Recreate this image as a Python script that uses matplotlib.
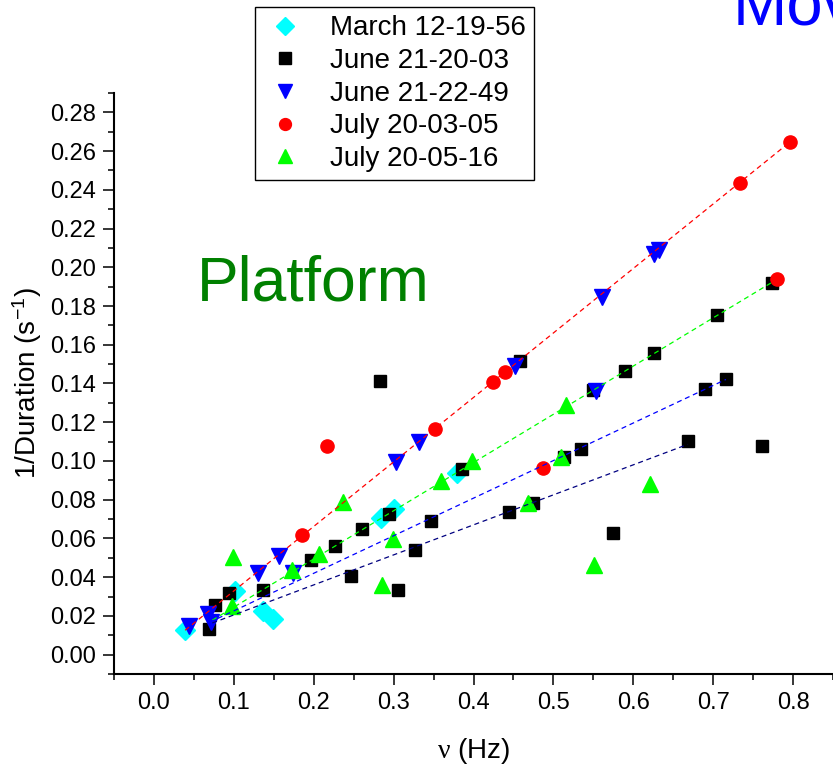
import matplotlib
matplotlib.use("Agg")
import matplotlib.pyplot as plt
from matplotlib.ticker import MultipleLocator, FormatStrFormatter
import numpy as np

plt.rcParams['font.family'] = ['Liberation Sans', 'DejaVu Sans']
plt.rcParams['mathtext.fontset'] = 'custom'
plt.rcParams['mathtext.rm'] = 'Liberation Serif'
plt.rcParams['mathtext.default'] = 'regular'

# March 12-19-56
march_x = [0.039, 0.101, 0.136, 0.149, 0.284, 0.300, 0.379]
march_y = [0.0126, 0.0330, 0.0225, 0.0184, 0.0703, 0.0754, 0.0938]

# June 21-20-03
june20_x = [0.069, 0.077, 0.094, 0.136, 0.197, 0.227, 0.247, 0.261, 0.283, 0.294,
            0.305, 0.327, 0.347, 0.386, 0.445, 0.458, 0.474, 0.513, 0.535, 0.550,
            0.575, 0.589, 0.626, 0.668, 0.690, 0.705, 0.716, 0.761, 0.774]
june20_y = [0.0134, 0.0255, 0.0318, 0.0336, 0.0487, 0.0559, 0.0404, 0.0647, 0.1413, 0.0728,
            0.0332, 0.0539, 0.0690, 0.0956, 0.0737, 0.1517, 0.0785, 0.1021, 0.1060, 0.1365,
            0.0630, 0.1463, 0.1555, 0.1103, 0.1370, 0.1753, 0.1422, 0.1078, 0.1921]

# June 21-22-49
june22_x = [0.044, 0.067, 0.071, 0.130, 0.156, 0.174, 0.303, 0.332, 0.452, 0.553,
            0.561, 0.626, 0.632]
june22_y = [0.0148, 0.0212, 0.0168, 0.0421, 0.0508, 0.0421, 0.0995, 0.1098, 0.1489, 0.1362,
            0.1847, 0.2071, 0.2088]

# July 20-03-05
july03_x = [0.185, 0.216, 0.352, 0.425, 0.440, 0.487, 0.734, 0.780, 0.796]
july03_y = [0.0616, 0.1077, 0.1167, 0.1408, 0.1460, 0.0966, 0.2433, 0.1939, 0.2647]

# July 20-05-16
july05_x = [0.098, 0.0995, 0.173, 0.207, 0.236, 0.285, 0.299, 0.359, 0.398, 0.468,
            0.510, 0.516, 0.551, 0.621]
july05_y = [0.0251, 0.0504, 0.0435, 0.0522, 0.0788, 0.0358, 0.0599, 0.0897, 0.0998, 0.0785,
            0.1021, 0.1291, 0.0461, 0.0883]

# linear fits: y = slope * x + intercept over [x_start, x_end]
fit_slope = [0.333, 0.249, 0.194, 0.155]
fit_icept = [-0.0004, -0.0004, 0.0032, 0.005]
fit_start = [0.039, 0.073, 0.070, 0.073]
fit_end = [0.796, 0.774, 0.716, 0.668]
fit_colors = ['#ff0000', '#00ff00', '#0000ff', '#000080']

fig = plt.figure(figsize=(8.33, 7.70), dpi=100)
ax = fig.add_axes([0.1369, 0.1247, 0.8631, 0.7545])

ax.plot(march_x, march_y, 'D', color='#00ffff', ms=10, mec='#00ffff', label='March 12-19-56', zorder=3)
ax.plot(june20_x, june20_y, 's', color='black', ms=8.8, mec='black', label='June 21-20-03', zorder=3)
ax.plot(june22_x, june22_y, 'v', color='#0000ff', ms=11, mec='#0000ff', label='June 21-22-49', zorder=3)
ax.plot(july03_x, july03_y, 'o', color='#ff0000', ms=9.5, mec='#ff0000', label='July 20-03-05', zorder=3)
ax.plot(july05_x, july05_y, '^', color='#00ff00', ms=11, mec='#00ff00', label='July 20-05-16', zorder=3)

for k in range(len(fit_slope)):
    xs = np.array([fit_start[k], fit_end[k]])
    ax.plot(xs, fit_slope[k] * xs + fit_icept[k], color=fit_colors[k], lw=0.9,
            dashes=(4, 3), zorder=4)

ax.set_xlim(-0.05, 0.85)
ax.set_ylim(-0.01, 0.29)
ax.xaxis.set_major_locator(MultipleLocator(0.1))
ax.xaxis.set_minor_locator(MultipleLocator(0.05))
ax.yaxis.set_major_locator(MultipleLocator(0.02))
ax.yaxis.set_minor_locator(MultipleLocator(0.01))
ax.xaxis.set_major_formatter(FormatStrFormatter('%.1f'))
ax.yaxis.set_major_formatter(FormatStrFormatter('%.2f'))
ax.tick_params(which='major', direction='out', length=8, width=1.1, labelsize=17, pad=5)
ax.tick_params(which='minor', direction='out', length=4.5, width=1.1)
ax.tick_params(axis='x', pad=5)

for side in ['top', 'right']:
    ax.spines[side].set_visible(False)
for side in ['left', 'bottom']:
    ax.spines[side].set_linewidth(1.5)

ax.set_xlabel(r'$\mathrm{\nu}$ (Hz)', fontsize=20, labelpad=16)
ax.set_ylabel('1/Duration (s$^{-1}$)', fontsize=20, labelpad=4)

fig.text(0.2365, 0.610, 'Platform', color='#008000', fontsize=45, va='baseline')
fig.text(0.88, 0.968, 'Moving', color='#0000ff', fontsize=47, va='baseline')

leg = fig.legend(loc='upper left', bbox_to_anchor=(0.306, 0.991), fontsize=20,
                 frameon=True, fancybox=False, framealpha=1, edgecolor='black',
                 markerscale=0.9, handlelength=1.6, handletextpad=0.8,
                 labelspacing=0.24, borderpad=0.3, borderaxespad=0)
leg.get_frame().set_linewidth(1.0)

fig.savefig('out.png', dpi=100)
